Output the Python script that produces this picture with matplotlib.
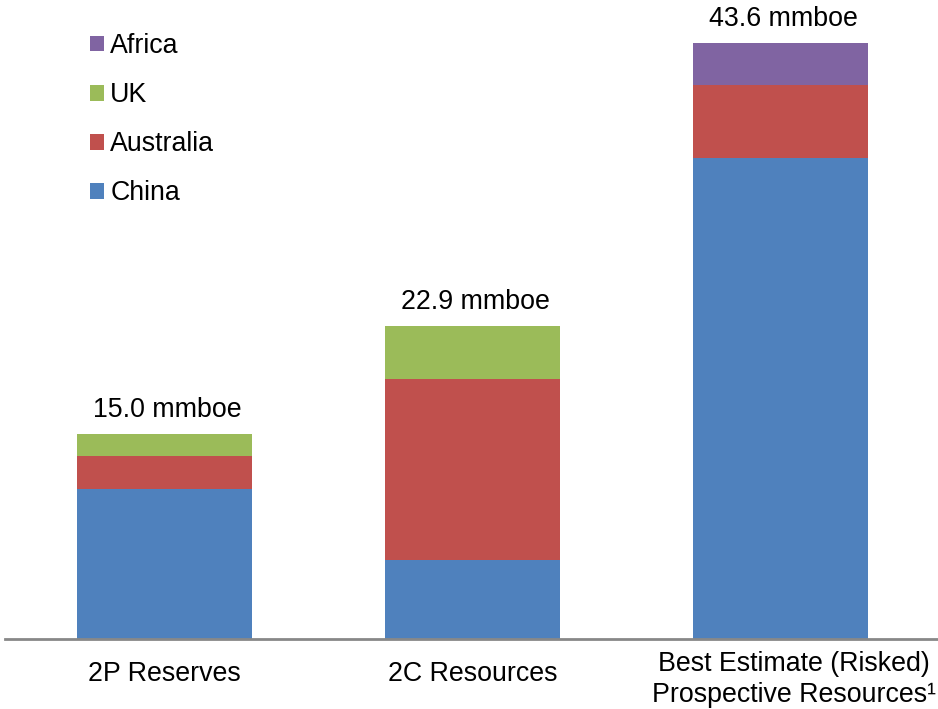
import matplotlib
matplotlib.use("Agg")
import matplotlib.pyplot as plt
from matplotlib.patches import Patch
import matplotlib.transforms as mtransforms
import numpy as np

plt.rcParams['font.family'] = ['Liberation Sans', 'DejaVu Sans']

categories = ["2P Reserves", "2C Resources", "Best Estimate (Risked)\nProspective Resources¹"]
series_names = ["China", "Australia", "UK", "Africa"]
china = [11.0, 5.8, 35.2]
australia = [2.4, 13.2, 5.3]
uk = [1.6, 3.9, 0.0]
africa = [0.0, 0.0, 3.1]
totals = ["15.0 mmboe", "22.9 mmboe", "43.6 mmboe"]
colors = ["#4F81BD", "#C0504D", "#9BBB59", "#8064A2"]

FS = 19.3
W, H = 938, 709
fig = plt.figure(figsize=(W / 100, H / 100), dpi=100)
ax = fig.add_axes([5 / W, (H - 639) / H, (938 - 5) / W, 639 / H])

x = np.arange(len(categories))
bottom = np.zeros(len(categories))
for vals, name, col in zip([china, australia, uk, africa], series_names, colors):
    v = np.array(vals)
    ax.bar(x, v, bottom=bottom, width=0.568, color=col, label=name,
           edgecolor='none', linewidth=0)
    bottom += v

for xi, top, lab in zip(x, bottom, totals):
    ax.annotate(lab, (xi, top), xytext=(2, 8), textcoords='offset points',
                ha='center', va='bottom', fontsize=FS, color='black')

ax.set_xlim(-0.518, 2.511)
ax.set_ylim(0, 46.74)
for s in ['top', 'right', 'left']:
    ax.spines[s].set_visible(False)
ax.spines['bottom'].set_color('#888888')
ax.spines['bottom'].set_linewidth(2)
ax.set_yticks([])
ax.set_xticks(x)
ax.set_xticklabels(categories, fontsize=FS, linespacing=1.25)
ax.tick_params(axis='x', length=0, pad=25)
lbls = ax.get_xticklabels()
for l in lbls:
    l.set_va('center')
    l.set_multialignment('center')
lbls[2].set_transform(lbls[2].get_transform() + mtransforms.ScaledTranslation(13 / 100, -6 / 100, fig.dpi_scale_trans))

handles = [Patch(facecolor=c, edgecolor='none') for c in colors]
leg = ax.legend(handles[::-1], series_names[::-1], loc='upper left',
                bbox_to_anchor=(90 / W, 1 - 33 / H), bbox_transform=fig.transFigure,
                frameon=False, fontsize=FS, handlelength=0.54, handleheight=0.54,
                handletextpad=0.22, labelspacing=0.86, borderpad=0, borderaxespad=0)

fig.savefig("out.png", dpi=100)
